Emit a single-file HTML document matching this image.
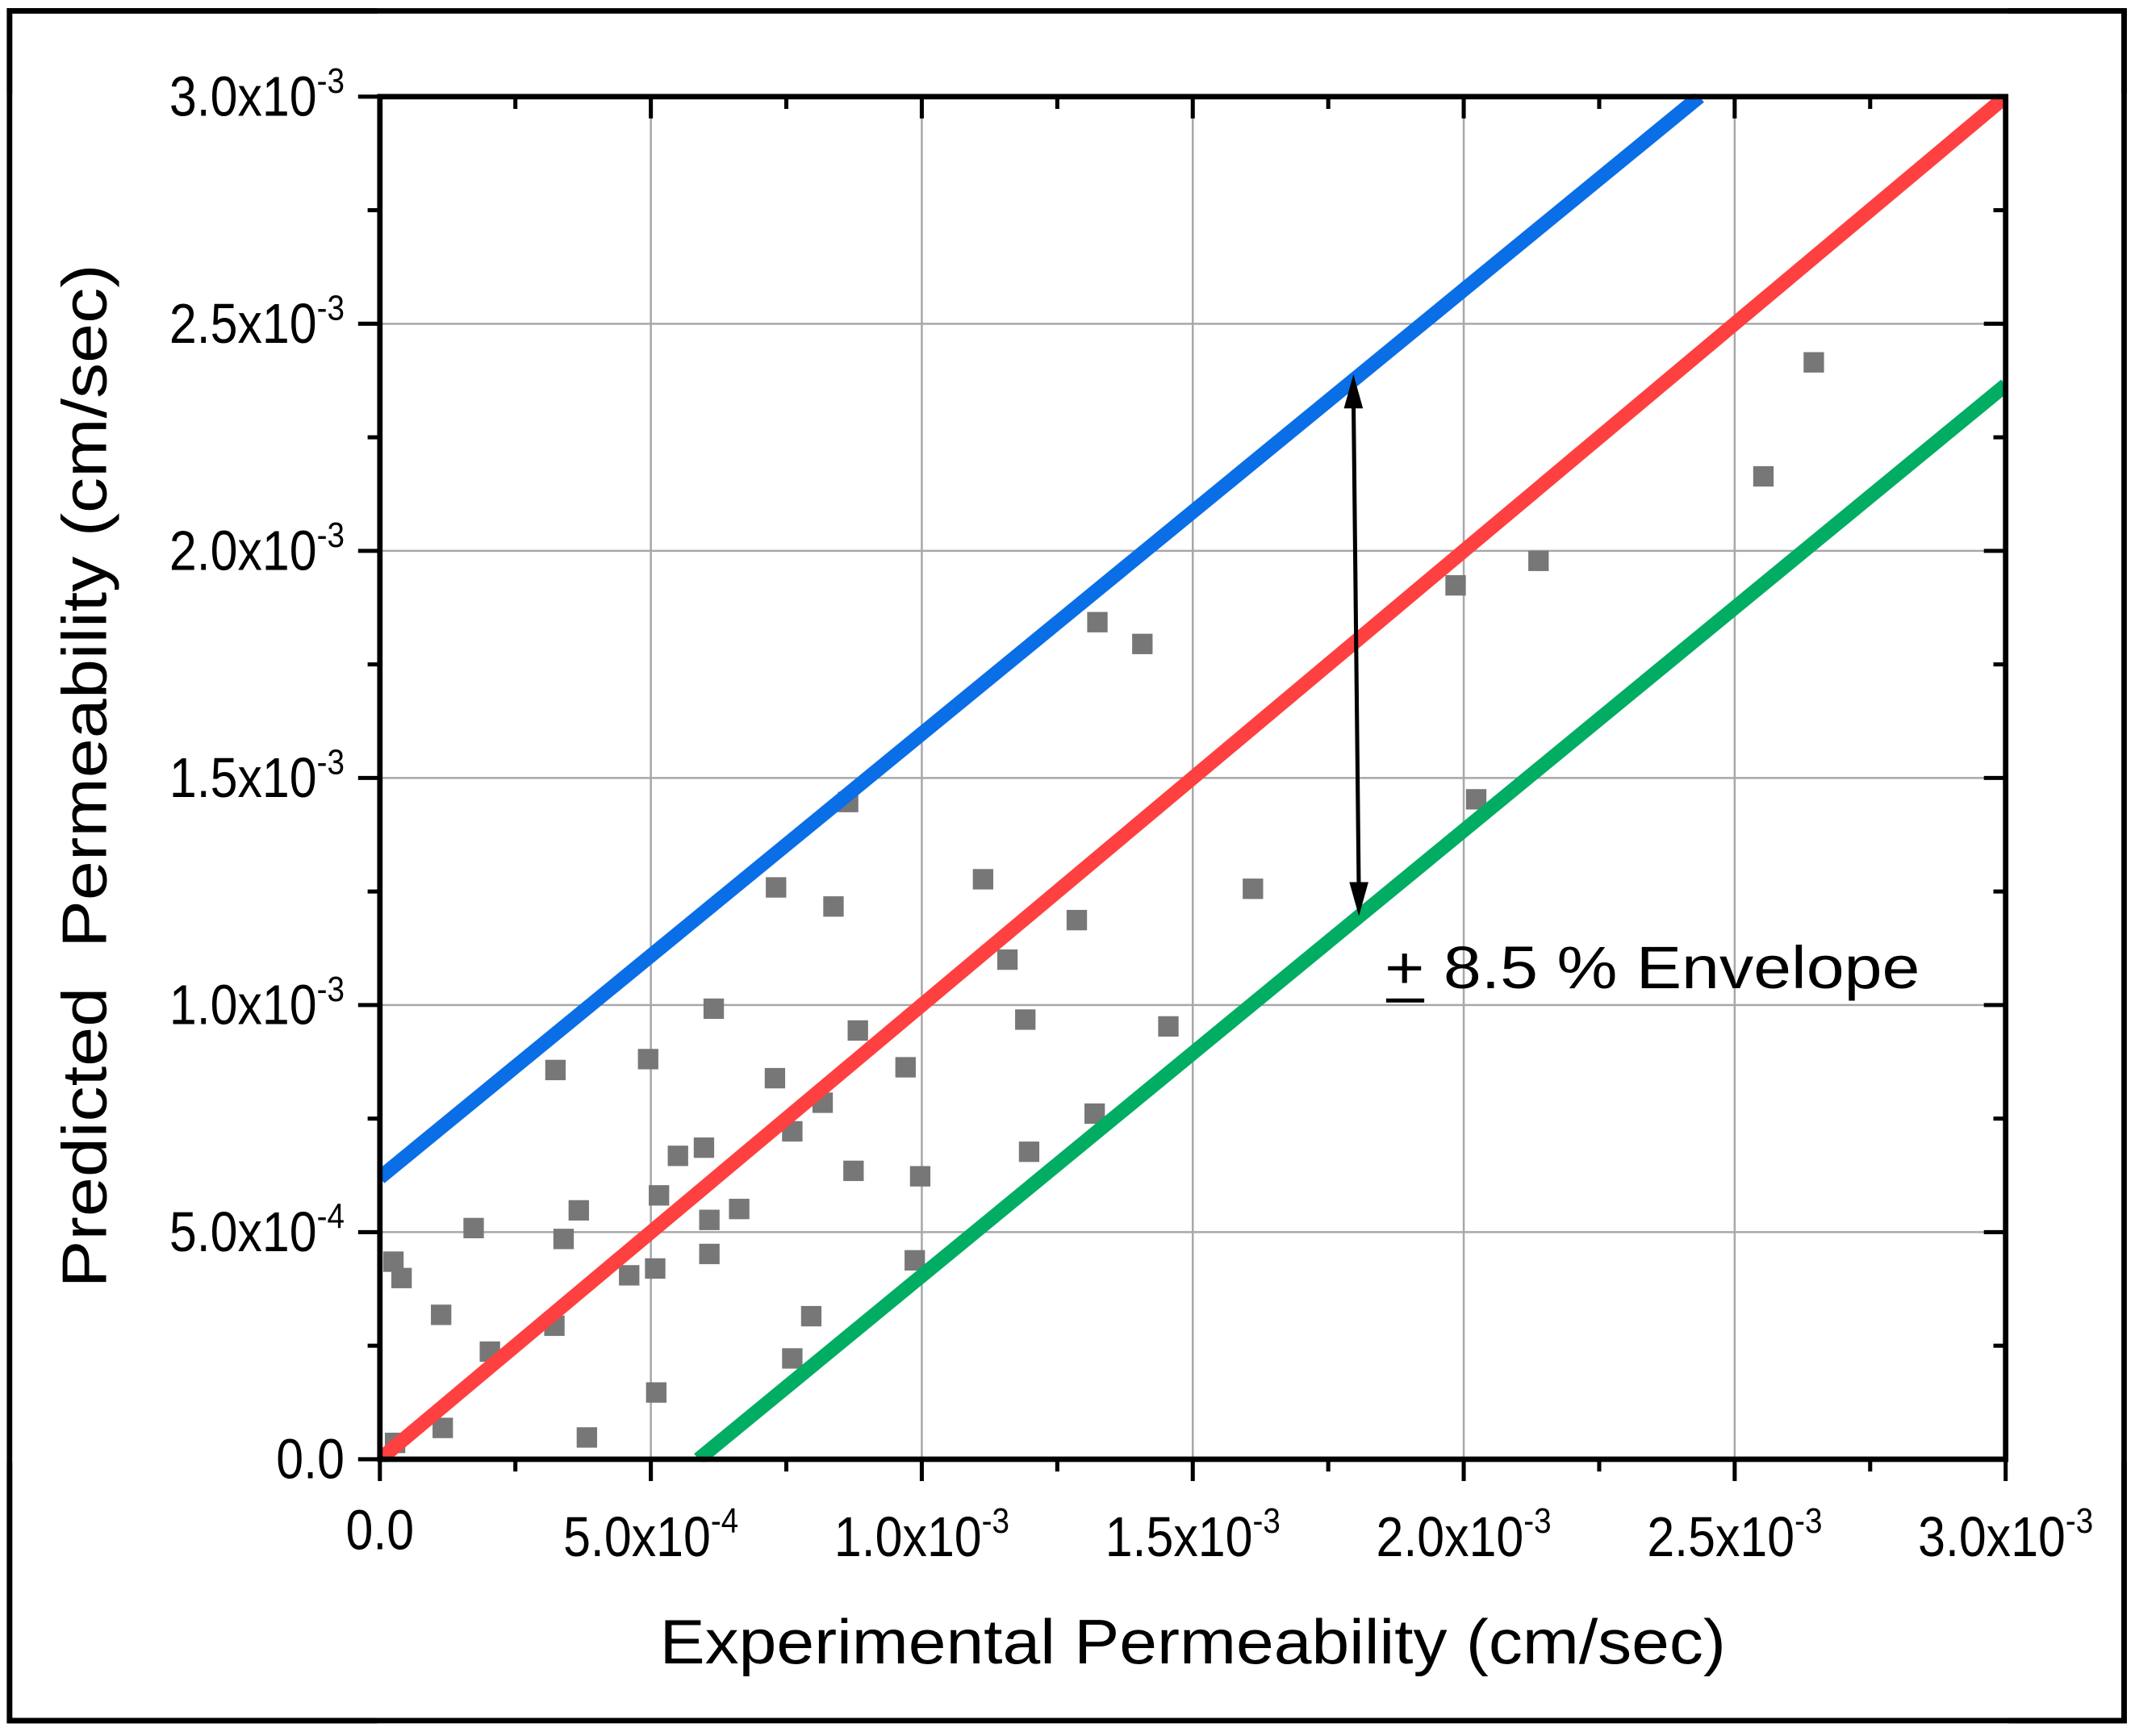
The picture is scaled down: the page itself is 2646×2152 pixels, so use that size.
<!DOCTYPE html>
<html><head><meta charset="utf-8"><style>
html,body{margin:0;padding:0;background:#fff;}
svg{display:block;}
text{font-family:"Liberation Sans",sans-serif;fill:#000;}
</style></head><body>
<svg id="chart" width="2646" height="2152" viewBox="0 0 1568 1275.3" preserveAspectRatio="none" xmlns="http://www.w3.org/2000/svg">
<rect x="7" y="8" width="1553" height="1256" fill="#fff" stroke="#000" stroke-width="4"/>
<g id="grid"></g>
<g id="series"></g>
<g id="axes"></g>
<text x="876" y="1222" font-size="46" text-anchor="middle" textLength="783" lengthAdjust="spacingAndGlyphs">Experimental Permeability (cm/sec)</text>
<text transform="translate(78,570) rotate(-90)" font-size="46" text-anchor="middle" textLength="752" lengthAdjust="spacingAndGlyphs" xml:space="preserve">Predicted  Permeability (cm/sec)</text>
<g>
<line x1="994" y1="290" x2="998" y2="658" stroke="#000" stroke-width="3"/>
<polygon points="994,275 987,300 1001,300" fill="#000"/>
<polygon points="998,673 991,648 1005,648" fill="#000"/>
<text x="1017" y="726" font-size="44" textLength="393" lengthAdjust="spacingAndGlyphs">+ 8.5 % Envelope</text>
<line x1="1018" y1="735" x2="1046" y2="735" stroke="#000" stroke-width="3"/>
</g>
<script>
const xTicks=[0,0.5,1.0,1.5,2.0,2.5,3.0];
const yTicks=[0,0.5,1.0,1.5,2.0,2.5,3.0];
const xTickLabels=["0.0","5.0x10","1.0x10","1.5x10","2.0x10","2.5x10","3.0x10"];
const xTickExp=["","-4","-3","-3","-3","-3","-3"];
const yTickLabels=["0.0","5.0x10","1.0x10","1.5x10","2.0x10","2.5x10","3.0x10"];
const yTickExp=["","-4","-3","-3","-3","-3","-3"];
const expX=[0.025,0.040,0.028,0.113,0.116,0.173,0.203,0.324,0.322,0.339,0.367,0.382,0.460,0.495,0.508,0.510,0.515,0.550,0.598,0.608,0.608,0.616,0.663,0.729,0.731,0.761,0.761,0.796,0.817,0.837,0.864,0.874,0.882,0.970,0.987,0.997,1.113,1.158,1.191,1.198,1.286,1.319,1.324,1.407,1.455,1.611,1.985,2.023,2.138,2.553,2.646];
const predY=[0.435,0.399,0.036,0.318,0.069,0.509,0.237,0.857,0.294,0.485,0.548,0.048,0.405,0.881,0.420,0.147,0.581,0.668,0.686,0.527,0.452,0.992,0.551,0.839,1.259,0.722,0.222,0.315,0.785,1.217,1.447,0.635,0.944,0.863,0.438,0.623,1.277,1.100,0.968,0.677,1.187,0.761,1.843,1.795,0.953,1.256,1.924,1.453,1.978,2.164,2.415];
const upperLineX=[0,2.435];
const upperLineY=[0.62,3.0];
const idealLineX=[0,3.0];
const idealLineY=[0,3.0];
const lowerLineX=[0.588,3.0];
const lowerLineY=[0,2.365];

const L=279,R=1473,T=71,B=1072;
const sx=v=>L+(v/3)*(R-L);
const sy=v=>B-(v/3)*(B-T);
const NS="http://www.w3.org/2000/svg";
function mk(tag,attrs,parent){const e=document.createElementNS(NS,tag);for(const k in attrs)e.setAttribute(k,attrs[k]);parent.appendChild(e);return e;}
const grid=document.getElementById('grid'),series=document.getElementById('series'),axes=document.getElementById('axes');
xTicks.forEach((t,i)=>{if(t>0&&t<3){const g=mk('line',{x1:sx(t),x2:sx(t),y1:T,y2:B,stroke:'#a8a8a8','stroke-width':1.5},grid);

}});
yTicks.forEach((t,i)=>{if(t>0&&t<3){const g=mk('line',{x1:L,x2:R,y1:sy(t),y2:sy(t),stroke:'#a8a8a8','stroke-width':1.5},grid);

}});
function line(xs,ys,color,name){const l=mk('line',{x1:sx(xs[0]),y1:sy(ys[0]),x2:sx(xs[1]),y2:sy(ys[1]),stroke:color,'stroke-width':10.5},series);

}
expX.forEach((x,i)=>{const r=mk('rect',{x:sx(x)-7.5,y:sy(predY[i])-7.5,width:15,height:15,fill:'#777'},series);

});
line(upperLineX,upperLineY,'#0a6ee6','upper-envelope-line');
line(lowerLineX,lowerLineY,'#00ad62','lower-envelope-line');
line(idealLineX,idealLineY,'#ff4040','ideal-line');
const cover=mk('path',{d:`M0 0H1568V${T-2}H0Z M0 ${B+2}H1568V1275H0Z M0 0H${L-2}V1275H0Z M${R+2} 0H1568V1275H${R+2}Z`,fill:'#fff','fill-rule':'evenodd'},series);


const frame=mk('rect',{x:L,y:T,width:R-L,height:B-T,fill:'none',stroke:'#000','stroke-width':4},axes);


const outer=mk('rect',{x:7,y:8,width:1553,height:1256,fill:'none',stroke:'#000','stroke-width':4},axes);


for(let k=0;k<=12;k++){const v=k*0.25,maj=k%2==0,len=maj?16:9;
 const a=mk('line',{x1:sx(v),x2:sx(v),y1:B,y2:B+len,stroke:'#000','stroke-width':3},axes);
 
 
 const b=mk('line',{x1:sx(v),x2:sx(v),y1:T,y2:T+len,stroke:'#000','stroke-width':3},axes);
 
 
 const c=mk('line',{x1:L-len,x2:L,y1:sy(v),y2:sy(v),stroke:'#000','stroke-width':3},axes);
 
 
 const d=mk('line',{x1:R-len,x2:R,y1:sy(v),y2:sy(v),stroke:'#000','stroke-width':3},axes);
 
 }
const SC=0.88;
xTicks.forEach((t,i)=>{const tx=mk('text',{transform:`translate(${sx(t)},${i==0?1138:1143}) scale(${SC},1)`,'font-size':41,'text-anchor':'middle'},axes);
 
 
 const s=mk('tspan',{},tx);s.textContent=xTickLabels[i];
 if(xTickExp[i]){const e=mk('tspan',{'font-size':26,dy:-17},tx);e.textContent=xTickExp[i];}});
yTicks.forEach((t,i)=>{const tx=mk('text',{transform:`translate(253,${sy(t)+14}) scale(${SC},1)`,'font-size':41,'text-anchor':'end'},axes);
 
 
 const s=mk('tspan',{},tx);s.textContent=yTickLabels[i];
 if(yTickExp[i]){const e=mk('tspan',{'font-size':26,dy:-17},tx);e.textContent=yTickExp[i];}});
</script>
</svg>
</body></html>
